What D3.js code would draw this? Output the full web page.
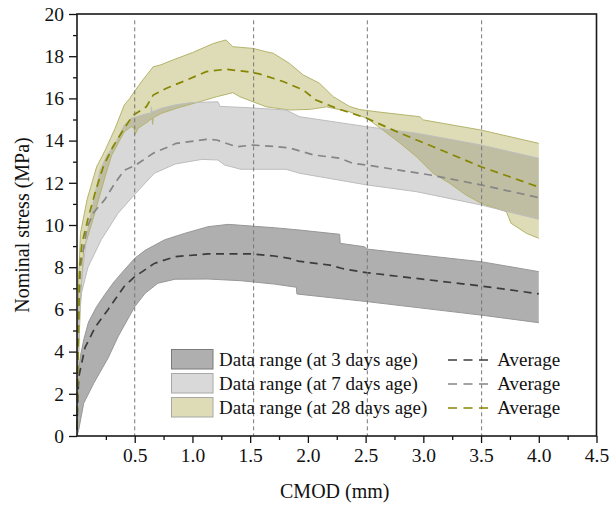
<!DOCTYPE html>
<html>
<head>
<meta charset="utf-8">
<script src="https://cdn.jsdelivr.net/npm/d3@7"></script>
<style>
  body { margin: 0; background: #fff; }
  svg text { font-family: "Liberation Serif", "Times New Roman", serif; fill: #111; }
</style>
</head>
<body>
<div id="chart"></div>
<script>
// CMOD (mm) vs nominal stress (MPa), band boundaries + averages
const upper3 = [[0,0.8],[0.01,2.8],[0.03,3.8],[0.06,4.6],[0.1,5.4],[0.17,6.13],[0.24,6.7],[0.32,7.3],[0.41,7.87],[0.5,8.42],[0.59,8.8],[0.76,9.3],[0.93,9.6],[1.135,9.92],[1.31,10.03],[1.51,9.95],[1.71,9.87],[1.93,9.76],[2.275,9.56],[2.28,9.13],[2.49,8.97],[2.51,8.86],[3.5,8.26],[4.0,7.79]];
const lower3 = [[0,0],[0.015,0.3],[0.058,1.55],[0.145,2.5],[0.27,3.7],[0.355,4.7],[0.5,6.13],[0.59,6.76],[0.7,7.24],[0.85,7.43],[1.135,7.44],[1.42,7.36],[1.71,7.2],[1.9,7.05],[1.905,6.73],[2.51,6.37],[3.5,5.73],[4.0,5.37]];
const avg3 = [[0,0.3],[0.005,1.5],[0.015,2.8],[0.07,4.2],[0.16,5.18],[0.27,6.0],[0.41,7.1],[0.5,7.55],[0.67,8.18],[0.85,8.5],[1.135,8.63],[1.51,8.63],[1.71,8.53],[1.84,8.42],[1.915,8.29],[2.19,8.1],[2.29,7.95],[2.36,7.87],[2.51,7.74],[3.5,7.11],[4.0,6.74]];

const upper7 = [[0,0.5],[0.005,3],[0.015,5.5],[0.03,6.9],[0.087,9.6],[0.145,11.2],[0.2,12.6],[0.26,13.3],[0.33,13.85],[0.41,14.74],[0.47,15.06],[0.515,15.13],[0.615,15.29],[0.64,15.3],[0.645,15.6],[0.65,15.35],[0.73,15.53],[0.85,15.69],[0.99,15.8],[1.22,15.84],[1.24,15.62],[1.48,15.56],[1.81,15.45],[1.93,15.13],[2.51,14.66],[2.94,14.35],[3.5,13.79],[4.0,13.16]];
const lower7 = [[0,0.3],[0.01,3.5],[0.025,5.8],[0.04,6.8],[0.095,8.0],[0.21,9.3],[0.355,10.55],[0.5,11.45],[0.615,12.13],[0.67,12.45],[0.85,12.89],[1.08,13.11],[1.22,13.08],[1.28,12.84],[1.42,12.64],[1.81,12.64],[1.93,12.45],[2.51,11.9],[2.94,11.58],[3.5,10.95],[4.0,10.27]];
const avg7 = [[0,0.4],[0.008,4],[0.02,6.8],[0.03,8.0],[0.087,9.9],[0.145,10.6],[0.24,11.2],[0.33,12.0],[0.41,12.6],[0.5,12.81],[0.66,13.4],[0.86,13.87],[1.12,14.06],[1.21,14.03],[1.38,13.71],[1.525,13.79],[1.73,13.71],[1.84,13.65],[2.05,13.32],[2.28,13.16],[2.39,12.92],[2.51,12.84],[3.06,12.37],[3.5,11.9],[4.0,11.3]];

const upper28 = [[0,0.5],[0.005,4],[0.015,7.5],[0.03,9.6],[0.087,11.2],[0.17,12.76],[0.24,13.5],[0.33,14.58],[0.41,15.69],[0.457,16.0],[0.5,16.35],[0.57,16.87],[0.66,17.5],[0.72,17.58],[0.83,17.82],[1.0,18.17],[1.18,18.6],[1.29,18.77],[1.35,18.45],[1.525,18.37],[1.64,18.21],[1.7,18.14],[1.84,17.66],[1.96,17.11],[2.1,16.72],[2.22,16.08],[2.36,15.62],[2.45,15.47],[2.59,15.37],[2.97,15.13],[3.0,14.98],[3.5,14.5],[4.0,13.87]];
const lower28 = [[0,0.3],[0.01,3],[0.03,6.5],[0.058,8.8],[0.145,10.4],[0.26,12.6],[0.3,13.3],[0.41,14.42],[0.47,14.66],[0.495,14.6],[0.5,14.27],[0.53,14.58],[0.615,14.9],[0.65,15.06],[0.655,14.77],[0.66,15.08],[0.73,15.29],[0.86,15.53],[1.06,15.84],[1.21,16.08],[1.35,16.27],[1.41,16.08],[1.525,15.84],[1.64,15.6],[1.84,15.45],[2.02,15.48],[2.16,15.6],[2.36,15.37],[2.51,15.06],[2.65,14.5],[2.8,13.87],[2.94,13.24],[3.085,12.45],[3.23,11.97],[3.37,11.42],[3.5,11.03],[3.72,10.63],[3.76,10.08],[3.895,9.6],[4.0,9.37]];
const avg28 = [[0,0.4],[0.008,3.5],[0.015,6],[0.023,8.0],[0.043,9.13],[0.1,10.4],[0.16,11.6],[0.23,12.8],[0.31,13.7],[0.4,14.5],[0.485,15.2],[0.6,15.6],[0.66,16.16],[0.775,16.48],[0.95,16.87],[1.12,17.27],[1.29,17.38],[1.47,17.27],[1.58,17.16],[1.785,16.8],[1.96,16.4],[2.07,15.92],[2.25,15.53],[2.51,15.06],[2.8,14.35],[3.085,13.71],[3.5,12.76],[4.0,11.8]];

const refLines = [0.5, 1.53, 2.515, 3.505];
const xMajor = [0.5, 1.0, 1.5, 2.0, 2.5, 3.0, 3.5, 4.0, 4.5];
const xMinor = [0.25, 0.75, 1.25, 1.75, 2.25, 2.75, 3.25, 3.75, 4.25];
const yMajor = [0, 2, 4, 6, 8, 10, 12, 14, 16, 18, 20];
const yMinor = [1, 3, 5, 7, 9, 11, 13, 15, 17, 19];
const seriesNames = ["Data range (at 3 days age)", "Data range (at 7 days age)", "Data range (at 28 days age)"];

const width = 613, height = 508;
const margin = { top: 14, right: 16.5, bottom: 72, left: 77 };

const svg = d3.select("#chart").append("svg")
    .attr("width", width)
    .attr("height", height);

const x = d3.scaleLinear().domain([0, 4.5]).range([margin.left, width - margin.right]);
const y = d3.scaleLinear().domain([0, 20]).range([height - margin.bottom, margin.top]);

const line = d3.line().x(d => x(d[0])).y(d => y(d[1]));

// 7-day band is a translucent dark grey laid over the 28-day band (greyish overlap like the original)
const series = [
    { upper: upper3, lower: lower3, avg: avg3, fill: "#afafaf", fillOpacity: 1, legendFill: "#afafaf", edge: "#979797", dash: "#3c3c3c", order: 0 },
    { upper: upper7, lower: lower7, avg: avg7, fill: "#686868", fillOpacity: 0.26, legendFill: "#d9d9d9", edge: "#bdbdbd", dash: "#868686", order: 2 },
    { upper: upper28, lower: lower28, avg: avg28, fill: "#dddcb6", fillOpacity: 1, legendFill: "#dddcb6", edge: "#b4b46c", dash: "#868600", order: 1 }
];

const drawOrder = series.slice().sort((a, b) => a.order - b.order);

drawOrder.forEach(s => {
    const poly = s.upper.concat(s.lower.slice().reverse());
    svg.append("path")
        .attr("d", line(poly) + "Z")
        .attr("fill", s.fill)
        .attr("fill-opacity", s.fillOpacity)
        .attr("stroke", "none");
});

// band edges
drawOrder.forEach(s => {
    [s.upper, s.lower].forEach(b => {
        svg.append("path")
            .attr("d", line(b))
            .attr("fill", "none")
            .attr("stroke", s.edge)
            .attr("stroke-width", 1);
    });
});

// average curves
series.forEach(s => {
    svg.append("path")
        .attr("d", line(s.avg))
        .attr("fill", "none")
        .attr("stroke", s.dash)
        .attr("stroke-width", 1.7)
        .attr("stroke-dasharray", "8,5.5");
});

// vertical reference lines
svg.append("g")
    .selectAll("line")
    .data(refLines)
    .enter()
    .append("line")
    .attr("x1", d => x(d))
    .attr("x2", d => x(d))
    .attr("y1", y(19.7))
    .attr("y2", y(0))
    .attr("stroke", "#777")
    .attr("stroke-width", 1)
    .attr("stroke-dasharray", "4,3");

// axes
svg.append("g")
    .attr("transform", `translate(0,${y(0)})`)
    .call(d3.axisBottom(x).tickValues(xMajor).tickSize(7).tickSizeOuter(0).tickPadding(5).tickFormat(d3.format(".1f")));
svg.append("g")
    .attr("transform", `translate(0,${y(0)})`)
    .call(d3.axisBottom(x).tickValues(xMinor).tickSize(4).tickSizeOuter(0).tickFormat(""));
svg.append("g")
    .attr("transform", `translate(${x(0)},0)`)
    .call(d3.axisLeft(y).tickValues(yMajor).tickSize(8).tickSizeOuter(0).tickPadding(5));
svg.append("g")
    .attr("transform", `translate(${x(0)},0)`)
    .call(d3.axisLeft(y).tickValues(yMinor).tickSize(4).tickSizeOuter(0).tickFormat(""));

svg.selectAll(".domain").remove();
svg.selectAll(".tick line").attr("stroke", "#111").attr("stroke-width", 1.3);
svg.selectAll(".tick text")
    .style("font-size", "19.5px")
    .attr("fill", "#111");

// frame
svg.append("rect")
    .attr("x", x(0))
    .attr("y", y(20))
    .attr("width", x(4.5) - x(0))
    .attr("height", y(0) - y(20))
    .attr("fill", "none")
    .attr("stroke", "#1a1a1a")
    .attr("stroke-width", 1.6);

// axis titles
svg.append("text")
    .attr("x", (x(0) + x(4.5)) / 2 - 2)
    .attr("y", 498)
    .attr("text-anchor", "middle")
    .style("font-size", "20px")
    .text("CMOD (mm)");
svg.append("text")
    .attr("transform", `translate(29,${(y(0) + y(20)) / 2}) rotate(-90)`)
    .attr("text-anchor", "middle")
    .style("font-size", "20px")
    .text("Nominal stress (MPa)");

// legend
const legend = svg.append("g").attr("transform", "translate(171.5,349.5)");
series.forEach((s, i) => {
    const g = legend.append("g").attr("transform", `translate(0,${i * 24})`);
    g.append("rect")
        .attr("width", 41.5)
        .attr("height", 19.5)
        .attr("fill", s.legendFill)
        .attr("stroke", i === 0 ? "#7a7a7a" : "#a8a8a8")
        .attr("stroke-width", 1);
    g.append("text")
        .attr("x", 47.5)
        .attr("y", 16)
        .style("font-size", "19px")
        .text(seriesNames[i]);
    g.append("line")
        .attr("x1", 276.5)
        .attr("x2", 316.5)
        .attr("y1", 10.5)
        .attr("y2", 10.5)
        .attr("stroke", s.dash)
        .attr("stroke-width", 1.7)
        .attr("stroke-dasharray", "9,6.5");
    g.append("text")
        .attr("x", 325.8)
        .attr("y", 16)
        .style("font-size", "19px")
        .text("Average");
});
</script>
</body>
</html>
